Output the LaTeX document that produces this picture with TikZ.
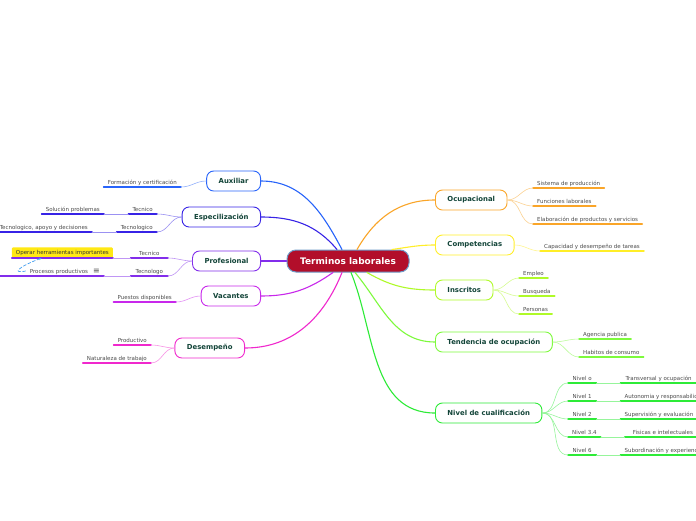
\documentclass[tikz,border=0pt]{standalone}
\usepackage{fontspec}
\setmainfont{DejaVu Sans}
\usetikzlibrary{arrows.meta}

\definecolor{tlred}{RGB}{178,14,42}
\definecolor{tlrim}{RGB}{110,155,200}
\definecolor{topictext}{RGB}{18,68,56}
\definecolor{subgray}{RGB}{75,75,75}
\definecolor{ocuC}{RGB}{250,165,40}
\definecolor{comC}{RGB}{255,238,40}
\definecolor{insC}{RGB}{175,250,40}
\definecolor{tenC}{RGB}{125,250,60}
\definecolor{nivC}{RGB}{45,235,55}
\definecolor{auxC}{RGB}{40,100,250}
\definecolor{espC}{RGB}{55,35,230}
\definecolor{proC}{RGB}{130,45,235}
\definecolor{vacC}{RGB}{200,40,235}
\definecolor{desC}{RGB}{240,40,205}
\definecolor{markC}{RGB}{255,232,20}
\definecolor{relC}{RGB}{70,160,240}

\begin{document}
\begin{tikzpicture}[x=1pt,y=1pt,line cap=round,
  topic/.style={draw=#1,line width=.9pt,rounded corners=7pt,fill=white,
    text=topictext,font=\fontsize{6.9}{8}\selectfont\bfseries,
    inner xsep=12pt,minimum height=20pt},
  sub/.style={font=\fontsize{5.5}{6.5}\selectfont,text=subgray,
    inner xsep=4pt,inner ysep=1.8pt,text height=4.2pt,text depth=1pt,
    append after command={(\tikzlastnode.south west)
      edge[draw=#1,line width=1.5pt] (\tikzlastnode.south east)}},
  link/.style={draw=#1,line width=1.1pt},
  twig/.style={draw=#1!50!white,line width=.6pt}]

  \fill[white] (0,0) rectangle (696,-520);
  \useasboundingbox (0,0) rectangle (696,-520);

  \node[fill=tlred,draw=tlrim,line width=1pt,rounded corners=9pt,text=white,
    font=\fontsize{9}{11}\selectfont\bfseries,minimum width=122pt,
    minimum height=22pt] (tl) at (348,-261) {Terminos laborales};

  % right side
  \node[topic=ocuC,anchor=west] (ocu) at (435,-200) {Ocupacional};
  \node[topic=comC,anchor=west] (com) at (435,-245) {Competencias};
  \node[topic=insC,anchor=west] (ins) at (435,-290) {Inscritos};
  \node[topic=tenC,anchor=west] (ten) at (435,-342) {Tendencia de ocupación};
  \node[topic=nivC,anchor=west] (niv) at (435,-413) {Nivel de cualificación};

  \draw[link=ocuC] ([xshift=9pt]tl.north) to[out=60,in=180] (ocu.west);
  \draw[link=comC] ([xshift=44pt]tl.north) to[out=8,in=180] (com.west);
  \draw[link=insC] ([xshift=19pt]tl.south) to[out=-30,in=180] (ins.west);
  \draw[link=tenC] ([xshift=7pt]tl.south) to[out=-50,in=180] (ten.west);
  \draw[link=nivC] ([xshift=3pt]tl.south) to[out=-68,in=180] (niv.west);

  \node[sub=ocuC,anchor=south west] (ocu1) at (533,-188) {Sistema de producción};
  \node[sub=ocuC,anchor=south west] (ocu2) at (533,-206) {Funciones laborales};
  \node[sub=ocuC,anchor=south west] (ocu3) at (533,-224) {Elaboración de productos y servicios};
  \foreach \n in {ocu1,ocu2,ocu3}
    \draw[twig=ocuC] (ocu.east) to[out=0,in=180] (\n.south west);

  \node[sub=comC,anchor=south west] (com1) at (540,-251) {Capacidad y desempeño de tareas};
  \draw[twig=comC] (com.east) to[out=0,in=180] (com1.south west);

  \node[sub=insC,anchor=south west] (ins1) at (519,-278) {Empleo};
  \node[sub=insC,anchor=south west] (ins2) at (519,-296) {Busqueda};
  \node[sub=insC,anchor=south west] (ins3) at (519,-314) {Personas};
  \foreach \n in {ins1,ins2,ins3}
    \draw[twig=insC] (ins.east) to[out=0,in=180] (\n.south west);

  \node[sub=tenC,anchor=south west] (ten1) at (579,-339) {Agencia publica};
  \node[sub=tenC,anchor=south west] (ten2) at (579,-357) {Habitos de consumo};
  \foreach \n in {ten1,ten2}
    \draw[twig=tenC] (ten.east) to[out=0,in=180] (\n.south west);

  \foreach \y/\lev/\gc [count=\i] in {383/Nivel o/Transversal y ocupación,
      401/Nivel 1/Autonomia y responsabilidad,419/Nivel 2/Supervisión y evaluación,
      437/Nivel 3.4/Fisicas e intelectuales,455/Nivel 6/Subordinación y experiencia}{
    \node[sub=nivC,anchor=south west,minimum width=28pt] (niv\i) at (568,-\y) {\lev};
    \node[sub=nivC,anchor=south west,minimum width=76pt] (nivg\i)
      at ([xshift=24pt]niv\i.south east) {\gc};
    \draw[twig=nivC] (niv.east) to[out=0,in=180] (niv\i.south west);
    \draw[twig=nivC] (niv\i.south east) -- (nivg\i.south west);
  }

  % left side
  \node[topic=auxC,anchor=east] (aux) at (261,-181) {Auxiliar};
  \node[topic=espC,anchor=east] (esp) at (261,-217) {Especilización};
  \node[topic=proC,anchor=east] (pro) at (261,-261) {Profesional};
  \node[topic=vacC,anchor=east] (vac) at (261,-296) {Vacantes};
  \node[topic=desC,anchor=east] (des) at (245,-348) {Desempeño};

  \draw[link=auxC] ([xshift=-6pt]tl.north) to[out=118,in=0] (aux.east);
  \draw[link=espC] ([xshift=-11pt]tl.north) to[out=130,in=0] (esp.east);
  \draw[link=proC] (tl.west) -- (pro.east);
  \draw[link=vacC] ([xshift=-15pt]tl.south) to[out=-145,in=0] (vac.east);
  \draw[link=desC] ([xshift=-6pt]tl.south) to[out=-112,in=0] (des.east);

  \node[sub=auxC,anchor=south east] (aux1) at (181,-187) {Formación y certificación};
  \draw[twig=auxC] (aux.west) to[out=180,in=0] (aux1.south east);

  \node[sub=espC,anchor=south east] (esp1) at (157,-214) {Tecnico};
  \node[sub=espC,anchor=south east] (esp2) at (157,-232) {Tecnologico};
  \node[sub=espC,anchor=south east] (esp11) at (104,-214) {Solución problemas};
  \node[sub=espC,anchor=south east] (esp21) at (92,-232) {Tecnologico, apoyo y decisiones};
  \foreach \n in {esp1,esp2}
    \draw[twig=espC] (esp.west) to[out=180,in=0] (\n.south east);
  \draw[twig=espC] (esp1.south west) -- (esp11.south east);
  \draw[twig=espC] (esp2.south west) -- (esp21.south east);

  \node[sub=proC,anchor=south east,minimum width=37pt] (pro1) at (168,-258) {Tecnico};
  \node[sub=proC,anchor=south east,minimum width=37pt] (pro2) at (168,-276) {Tecnologo};
  \node[sub=proC,anchor=south east,fill=markC,rounded corners=1pt,
    inner ysep=2.6pt,text=black!80] (pro11) at (113,-258) {Operar herramientas importantes};
  \node[sub=proC,anchor=south east,text width=96pt,align=right] (pro21)
    at (104,-276) {Procesos productivos\hspace{5pt}{\fontsize{8}{8}\selectfont ≡}};
  \foreach \n in {pro1,pro2}
    \draw[twig=proC] (pro.west) to[out=180,in=0] (\n.south east);
  \draw[twig=proC] (pro1.south west) -- (pro11.south east);
  \draw[twig=proC] (pro2.south west) -- (pro21.south east);
  \draw[relC,densely dashed,line width=.7pt,-{Stealth[length=3pt]}]
    ([shift={(26pt,5pt)}]pro21.south west) .. controls +(-14,-3) and +(-24,-9) ..
    ([xshift=30pt]pro11.south west);

  \node[sub=vacC,anchor=south east] (vac1) at (176,-302) {Puestos disponibles};
  \draw[twig=vacC] (vac.west) to[out=180,in=0] (vac1.south east);

  \node[sub=desC,anchor=south east] (des1) at (151,-345) {Productivo};
  \node[sub=desC,anchor=south east] (des2) at (151,-363) {Naturaleza de trabajo};
  \foreach \n in {des1,des2}
    \draw[twig=desC] (des.west) to[out=180,in=0] (\n.south east);
\end{tikzpicture}
\end{document}
